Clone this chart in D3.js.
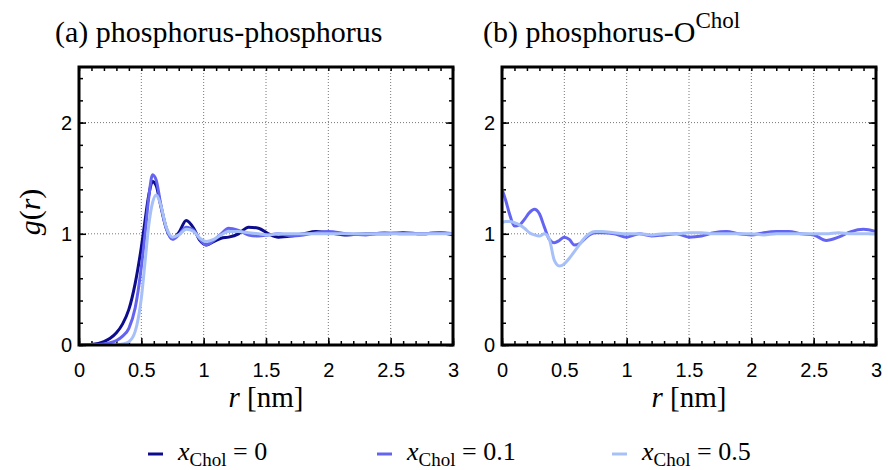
<!DOCTYPE html>
<html><head><meta charset="utf-8">
<script src="https://cdn.jsdelivr.net/npm/d3@7"></script>
<style>body{margin:0;background:#fff} svg{display:block}</style>
</head><body><svg id="c" width="888" height="470"></svg>
<script>
// ---- data ----
const rA = [0, 0.1, 0.2, 0.25, 0.3, 0.35, 0.4, 0.45, 0.5, 0.53, 0.56, 0.59, 0.62, 0.65, 0.7, 0.75, 0.8, 0.86, 0.92, 0.97, 1.02, 1.08, 1.14, 1.2, 1.28, 1.36, 1.44, 1.52, 1.6, 1.7, 1.8, 1.9, 2.0, 2.15, 2.3, 2.45, 2.6, 2.75, 2.9, 3.0];
const gA_x0 = [0, 0.005, 0.03, 0.06, 0.11, 0.19, 0.32, 0.55, 0.88, 1.12, 1.35, 1.47, 1.43, 1.28, 1.05, 0.96, 1.01, 1.12, 1.05, 0.94, 0.90, 0.93, 0.96, 0.97, 1.0, 1.06, 1.05, 1.0, 0.97, 0.98, 1.0, 1.02, 1.01, 0.99, 1.0, 1.0, 1.01, 1.0, 1.01, 0.99];
const gA_x01 = [0, 0.002, 0.01, 0.02, 0.04, 0.08, 0.15, 0.33, 0.70, 1.0, 1.33, 1.53, 1.48, 1.30, 1.05, 0.95, 0.99, 1.06, 1.03, 0.95, 0.90, 0.94, 1.0, 1.05, 1.03, 0.99, 0.98, 0.99, 1.0, 0.98, 0.99, 1.01, 1.02, 1.0, 0.99, 1.01, 1.0, 1.0, 1.01, 1.0];
const gA_x05 = [0, 0, 0, 0, 0.002, 0.01, 0.03, 0.12, 0.42, 0.75, 1.08, 1.28, 1.35, 1.28, 1.06, 0.97, 0.99, 1.04, 1.02, 0.96, 0.93, 0.95, 0.99, 1.02, 1.02, 1.01, 1.0, 0.99, 1.0, 1.0, 1.0, 1.0, 1.0, 1.0, 1.0, 1.0, 1.0, 1.0, 1.0, 1.0];
const rB = [0, 0.03, 0.06, 0.1, 0.14, 0.18, 0.22, 0.26, 0.3, 0.34, 0.38, 0.42, 0.46, 0.5, 0.54, 0.58, 0.62, 0.66, 0.7, 0.75, 0.8, 0.9, 1.0, 1.1, 1.2, 1.3, 1.4, 1.5, 1.6, 1.7, 1.8, 1.9, 2.0, 2.1, 2.2, 2.3, 2.4, 2.5, 2.6, 2.7, 2.8, 2.9, 3.0];
const gB_x01 = [1.40, 1.30, 1.18, 1.07, 1.08, 1.13, 1.19, 1.22, 1.18, 1.06, 0.95, 0.92, 0.94, 0.97, 0.95, 0.90, 0.91, 0.95, 0.99, 1.01, 1.01, 1.0, 0.97, 1.0, 0.98, 0.99, 1.0, 0.97, 0.98, 1.01, 1.02, 1.0, 0.99, 1.01, 1.02, 1.02, 1.0, 0.99, 0.94, 0.97, 1.02, 1.04, 1.02];
const gB_x05 = [1.10, 1.11, 1.11, 1.10, 1.08, 1.05, 1.01, 0.99, 0.98, 1.0, 0.95, 0.76, 0.71, 0.73, 0.78, 0.84, 0.90, 0.96, 1.0, 1.02, 1.02, 1.01, 1.0, 1.0, 0.99, 1.0, 1.0, 1.01, 1.01, 1.0, 1.0, 1.0, 1.0, 0.99, 1.0, 1.0, 1.0, 1.0, 1.0, 1.01, 1.0, 1.0, 1.0];
const xTicks = [0, 0.5, 1, 1.5, 2, 2.5, 3];
const xTickLabels = ["0", "0.5", "1", "1.5", "2", "2.5", "3"];
const yTicks = [0, 1, 2];
const yTickLabels = ["0", "1", "2"];
const legendValues = ["0", "0.1", "0.5"];
const colors = ["#0c0c8c", "#6464f2", "#a8c0f8"];

// ---- layout ----
const svg = d3.select("#c");
const plotTop = 67, plotBottom = 345;
const panels = [
  {x0: 79, x1: 453, series: [[rA, gA_x0, 0], [rA, gA_x01, 1], [rA, gA_x05, 2]]},
  {x0: 502, x1: 876, series: [[rB, gB_x01, 1], [rB, gB_x05, 2]]}
];
const y = d3.scaleLinear().domain([0, 2.5]).range([plotBottom, plotTop]);

panels.forEach((p, pi) => {
  const x = d3.scaleLinear().domain([0, 3]).range([p.x0, p.x1]);
  const g = svg.append("g");
  const cid = "clip" + pi;
  svg.append("clipPath").attr("id", cid).append("rect")
    .attr("x", p.x0).attr("y", plotTop).attr("width", p.x1 - p.x0).attr("height", plotBottom - plotTop);

  // grid
  g.selectAll(".gx").data(xTicks.filter(d => d > 0 && d < 3)).enter().append("line")
    .attr("x1", d => x(d)).attr("x2", d => x(d)).attr("y1", plotTop).attr("y2", plotBottom)
    .attr("stroke", "#777").attr("stroke-width", 1).attr("stroke-dasharray", "1,2");
  g.selectAll(".gy").data(yTicks.filter(d => d > 0)).enter().append("line")
    .attr("x1", p.x0).attr("x2", p.x1).attr("y1", d => y(d)).attr("y2", d => y(d))
    .attr("stroke", "#777").attr("stroke-width", 1).attr("stroke-dasharray", "1,2");

  // axes
  const minorX = d3.range(0, 3.0001, 0.1).map(v => +v.toFixed(1));
  const minorY = d3.range(0, 2.5001, 0.2).map(v => +v.toFixed(1));
  const fontTick = "20px 'Liberation Sans', Arial, sans-serif";
  function styleAxis(sel) { sel.select(".domain").remove(); sel.selectAll("line").attr("stroke", "#000").attr("stroke-width", 1.5); }

  g.append("g").attr("transform", `translate(0,${plotBottom})`)
    .call(d3.axisBottom(x).tickValues(minorX).tickSizeInner(-4).tickSizeOuter(0).tickFormat("")).call(styleAxis);
  g.append("g").attr("transform", `translate(0,${plotTop})`)
    .call(d3.axisTop(x).tickValues(minorX).tickSizeInner(-4).tickSizeOuter(0).tickFormat("")).call(styleAxis);
  const bx = g.append("g").attr("transform", `translate(0,${plotBottom})`)
    .call(d3.axisBottom(x).tickValues(xTicks).tickSizeInner(-7).tickSizeOuter(0).tickPadding(18)
      .tickFormat((d, i) => xTickLabels[i])).call(styleAxis);
  bx.selectAll("text").style("font", fontTick).attr("fill", "#000");

  g.append("g").attr("transform", `translate(${p.x0},0)`)
    .call(d3.axisLeft(y).tickValues(minorY).tickSizeInner(-4).tickSizeOuter(0).tickFormat("")).call(styleAxis);
  g.append("g").attr("transform", `translate(${p.x1},0)`)
    .call(d3.axisRight(y).tickValues(minorY).tickSizeInner(-4).tickSizeOuter(0).tickFormat("")).call(styleAxis);
  const ly = g.append("g").attr("transform", `translate(${p.x0},0)`)
    .call(d3.axisLeft(y).tickValues(yTicks).tickSizeInner(-7).tickSizeOuter(0).tickPadding(7)
      .tickFormat((d, i) => yTickLabels[i])).call(styleAxis);
  ly.selectAll("text").style("font", fontTick).attr("fill", "#000");
  g.append("g").attr("transform", `translate(${p.x1},0)`)
    .call(d3.axisRight(y).tickValues(yTicks).tickSizeInner(-7).tickSizeOuter(0).tickFormat("")).call(styleAxis);

  // series
  const line = d3.line().x(d => x(d[0])).y(d => y(d[1])).curve(d3.curveMonotoneX);
  const sg = g.append("g").attr("clip-path", `url(#${cid})`);
  p.series.forEach(([rs, gs, ci]) => {
    sg.append("path").datum(rs.map((r, i) => [r, gs[i]]))
      .attr("d", line).attr("fill", "none").attr("stroke", colors[ci])
      .attr("stroke-width", 3).attr("stroke-linejoin", "round");
  });

  // frame
  g.append("rect").attr("x", p.x0).attr("y", plotTop).attr("width", p.x1 - p.x0).attr("height", plotBottom - plotTop)
    .attr("fill", "none").attr("stroke", "#000").attr("stroke-width", 3);

  // x label
  const xl = g.append("text").attr("x", (p.x0 + p.x1) / 2).attr("y", 407).attr("text-anchor", "middle")
    .style("font", "29px 'Liberation Serif', 'Times New Roman', serif");
  xl.append("tspan").style("font-style", "italic").text("r");
  xl.append("tspan").text(" [nm]");
});

// titles
const serif = "'Liberation Serif', 'Times New Roman', serif";
svg.append("text").attr("x", 55).attr("y", 42).style("font", "30px " + serif).text("(a) phosphorus-phosphorus");
const tb = svg.append("text").attr("x", 483).attr("y", 42).style("font", "30px " + serif);
tb.append("tspan").text("(b) phosphorus-O");
tb.append("tspan").attr("dy", -14).style("font-size", "23px").text("Chol");

// y label
const yl = svg.append("text").attr("transform", `translate(40,${(plotTop + plotBottom) / 2 + 6}) rotate(-90)`)
  .attr("text-anchor", "middle").style("font", "30px " + serif);
yl.append("tspan").style("font-style", "italic").text("g");
yl.append("tspan").text("(");
yl.append("tspan").style("font-style", "italic").text("r");
yl.append("tspan").text(")");

// legend
const legX = [148, 377, 612];
legendValues.forEach((v, i) => {
  const lg = svg.append("g");
  lg.append("line").attr("x1", legX[i]).attr("x2", legX[i] + 15).attr("y1", 454).attr("y2", 454)
    .attr("stroke", colors[i]).attr("stroke-width", 3);
  const t = lg.append("text").attr("x", legX[i] + 30).attr("y", 460).style("font", "26px " + serif);
  t.append("tspan").style("font-style", "italic").text("x");
  t.append("tspan").attr("dy", 6).style("font-size", "19px").text("Chol");
  t.append("tspan").attr("dy", -6).text(" = " + v);
});
</script>
</body></html>
